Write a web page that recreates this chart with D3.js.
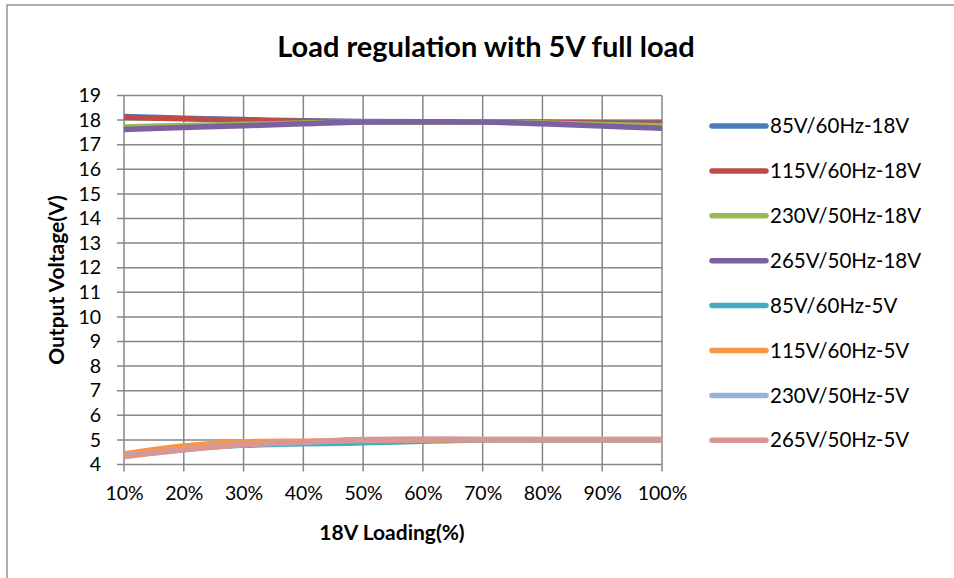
<!DOCTYPE html>
<html>
<head>
<meta charset="utf-8">
<script src="https://cdn.jsdelivr.net/npm/d3@7"></script>
<style>
  body { margin: 0; background: #fff; }
  svg { display: block; font-family: Lato, "Noto Sans", sans-serif; }
</style>
</head>
<body>
<svg id="chart" width="954" height="578"></svg>
<script>
// categories on the x axis
const loading = ["10%", "20%", "30%", "40%", "50%", "60%", "70%", "80%", "90%", "100%"];

// series values
const v85_18  = [18.15, 18.08, 18.02, 17.97, 17.94, 17.93, 17.93, 17.91, 17.89, 17.88];
const v115_18 = [18.12, 18.05, 18.00, 17.95, 17.93, 17.92, 17.92, 17.90, 17.88, 17.87];
const v230_18 = [17.72, 17.78, 17.83, 17.88, 17.92, 17.93, 17.93, 17.88, 17.82, 17.77];
const v265_18 = [17.62, 17.70, 17.77, 17.85, 17.92, 17.93, 17.92, 17.85, 17.76, 17.67];
const v85_5   = [4.40, 4.65, 4.78, 4.84, 4.88, 4.95, 5.00, 5.00, 5.00, 5.00];
const v115_5  = [4.43, 4.75, 4.92, 4.95, 4.98, 5.00, 5.01, 5.01, 5.01, 5.01];
const v230_5  = [4.35, 4.60, 4.80, 4.90, 5.00, 5.02, 5.02, 5.02, 5.02, 5.02];
const v265_5  = [4.32, 4.60, 4.80, 4.92, 5.02, 5.03, 5.02, 5.02, 5.02, 5.02];

const seriesNames = ["85V/60Hz-18V", "115V/60Hz-18V", "230V/50Hz-18V", "265V/50Hz-18V",
  "85V/60Hz-5V", "115V/60Hz-5V", "230V/50Hz-5V", "265V/50Hz-5V"];
const seriesColors = ["#4a7ebb", "#be4b48", "#98b954", "#7d60a0",
  "#46aac5", "#f79646", "#95b3d7", "#d99694"];
const yTicks = d3.range(4, 20);

const series = [v85_18, v115_18, v230_18, v265_18, v85_5, v115_5, v230_5, v265_5]
  .map((vals, i) => ({ name: seriesNames[i], color: seriesColors[i], values: vals }));

const svg = d3.select("#chart");

// chart border (only top and left visible in the picture)
svg.append("rect")
  .attr("x", 7).attr("y", 5)
  .attr("width", 1000).attr("height", 1000)
  .attr("fill", "none").attr("stroke", "#868686").attr("stroke-width", 1.3);

const plotL = 124, plotR = 662, plotT = 95.5, plotB = 464.5;

const x = d3.scalePoint().domain(loading).range([plotL, plotR]);
const y = d3.scaleLinear().domain([4, 19]).range([plotB, plotT]);

// grid
const grid = svg.append("g").attr("stroke", "#868686").attr("stroke-width", 1.5);
grid.selectAll("line.h").data(yTicks).join("line")
  .attr("class", "h")
  .attr("x1", plotL - 7).attr("x2", plotR)
  .attr("y1", d => y(d)).attr("y2", d => y(d));
grid.selectAll("line.v").data(loading).join("line")
  .attr("class", "v")
  .attr("x1", d => x(d)).attr("x2", d => x(d))
  .attr("y1", plotT).attr("y2", plotB + 7);

// axes labels via d3 axes
const yAxis = svg.append("g")
  .attr("transform", `translate(${plotL},0)`)
  .call(d3.axisLeft(y).tickValues(yTicks).tickSize(0).tickPadding(23));
const xAxis = svg.append("g")
  .attr("transform", `translate(0,${plotB})`)
  .call(d3.axisBottom(x).tickSize(0).tickPadding(22));
[yAxis, xAxis].forEach(a => {
  a.select(".domain").remove();
  a.selectAll("text").attr("font-family", "Lato, sans-serif")
    .attr("font-size", 19.5).attr("fill", "#000");
});

// lines
const line = d3.line()
  .x((d, i) => x(loading[i]))
  .y(d => y(d))
  .curve(d3.curveCatmullRom.alpha(0.5));

svg.append("g").selectAll("path").data(series).join("path")
  .attr("d", d => line(d.values))
  .attr("fill", "none")
  .attr("stroke", d => d.color)
  .attr("stroke-width", 5.5)
  .attr("stroke-linejoin", "round");

// title
svg.append("text")
  .attr("x", 486).attr("y", 57)
  .attr("text-anchor", "middle")
  .attr("font-size", 29).attr("font-weight", "bold")
  .text("Load regulation with 5V full load");

// axis titles
svg.append("text")
  .attr("x", 392).attr("y", 540)
  .attr("text-anchor", "middle")
  .attr("font-size", 21).attr("font-weight", "bold")
  .text("18V Loading(%)");

svg.append("text")
  .attr("transform", "translate(64,280) rotate(-90)")
  .attr("text-anchor", "middle")
  .attr("font-size", 21).attr("font-weight", "bold")
  .text("Output Voltage(V)");

// legend
const legend = svg.append("g").selectAll("g").data(series).join("g")
  .attr("transform", (d, i) => `translate(712,${126 + i * 44.9})`);
legend.append("line")
  .attr("x1", 0).attr("x2", 54)
  .attr("stroke", d => d.color).attr("stroke-width", 5.5)
  .attr("stroke-linecap", "round");
legend.append("text")
  .attr("x", 58).attr("dy", "0.35em")
  .attr("font-size", 20.5)
  .text(d => d.name);
</script>
</body>
</html>
